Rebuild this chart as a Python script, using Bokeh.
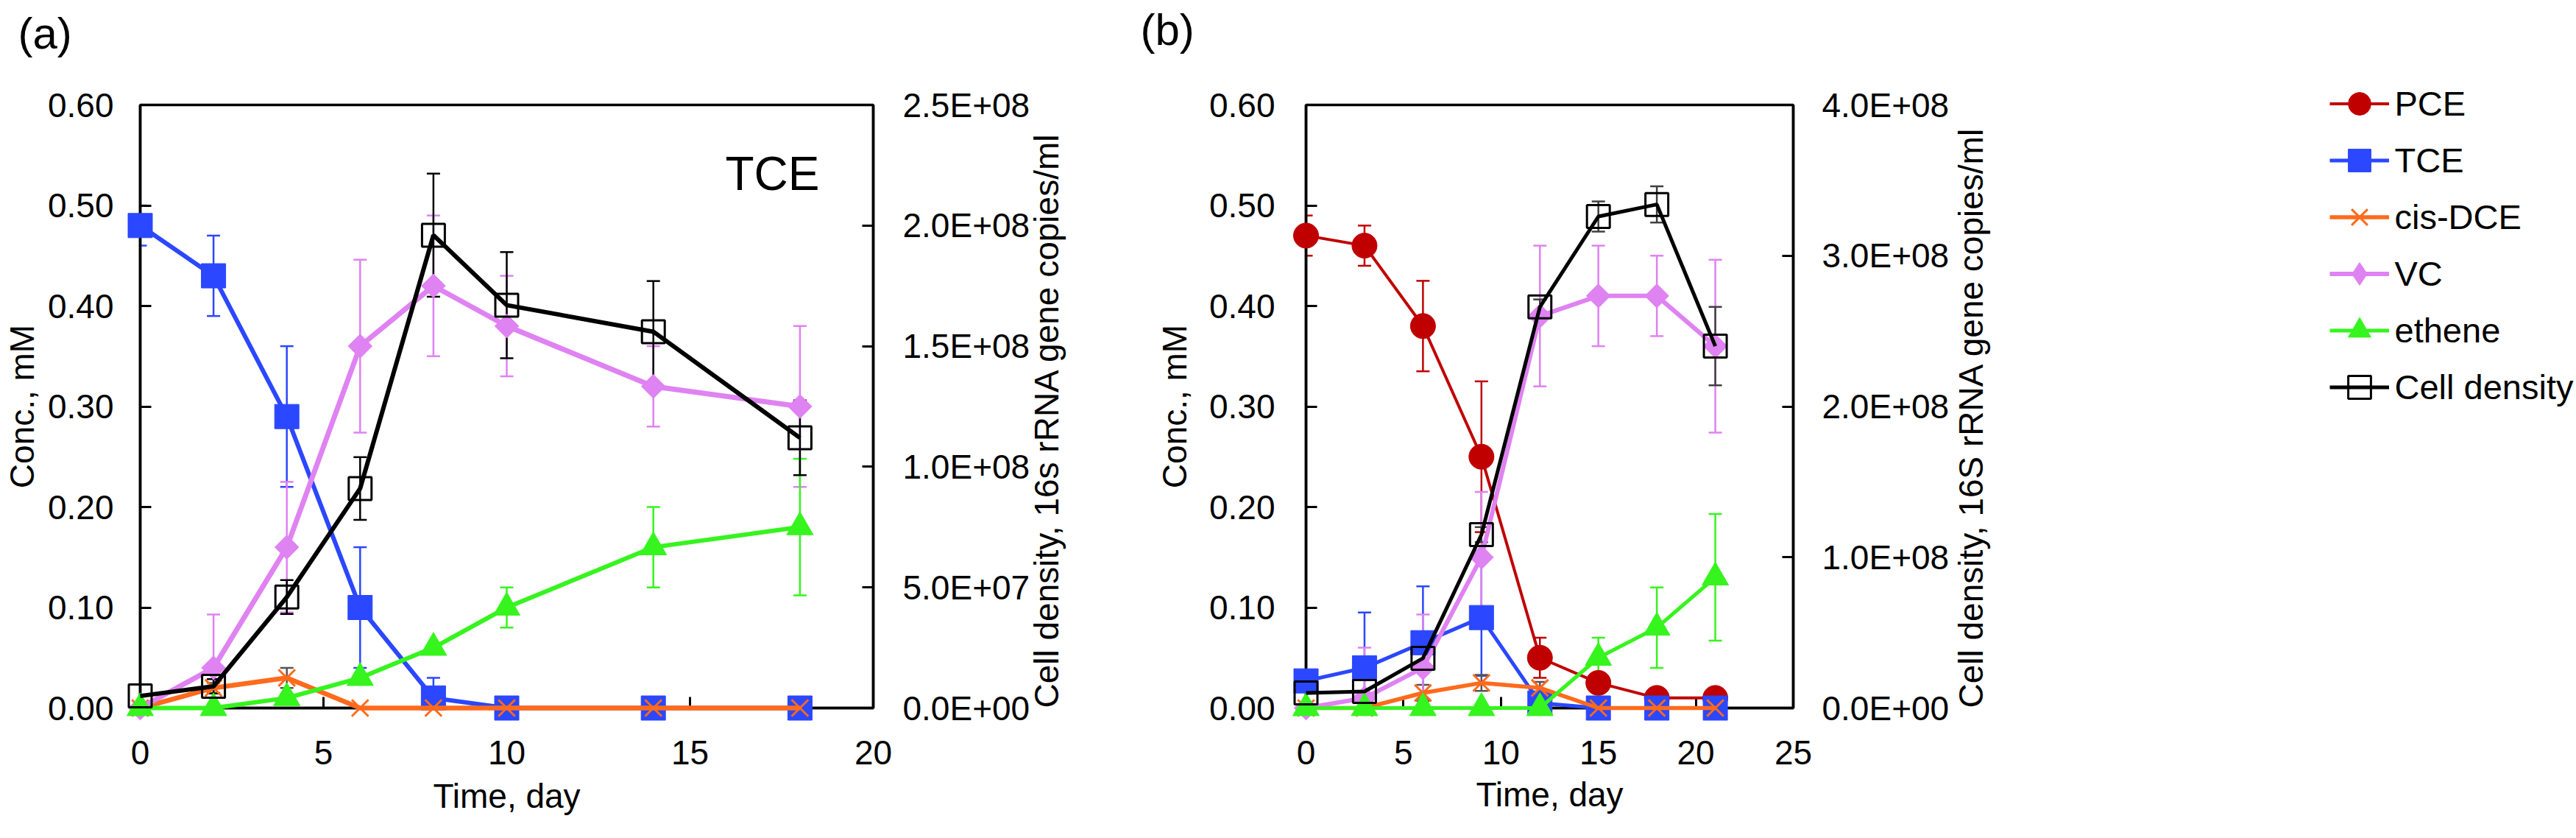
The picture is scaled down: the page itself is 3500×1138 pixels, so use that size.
import math
from bokeh.plotting import figure
from bokeh.models import (Range1d, LinearAxis, FixedTicker, NumeralTickFormatter,
                          CustomJSTickFormatter, Whisker, TeeHead, ColumnDataSource,
                          Label, Legend, LegendItem, Title)
from bokeh.layouts import row
from bokeh.embed import file_html
from bokeh.resources import INLINE

# ---------------- data ----------------
# panel (a): TCE-fed culture
days_a = [0, 2, 4, 6, 8, 10, 14, 18]
tce_a = [0.48, 0.43, 0.29, 0.10, 0.01, 0.0, 0.0, 0.0]
tce_a_err = [0.02, 0.04, 0.07, 0.06, 0.02, 0, 0, 0]
dce_a = [0.0, 0.02, 0.03, 0.0, 0.0, 0.0, 0.0, 0.0]
dce_a_err = [0, 0.005, 0.01, 0, 0, 0, 0, 0]
vc_a = [0.0, 0.04, 0.16, 0.36, 0.42, 0.38, 0.32, 0.30]
vc_a_err = [0, 0.053, 0.065, 0.086, 0.07, 0.05, 0.04, 0.08]
eth_a = [0.0, 0.0, 0.01, 0.03, 0.06, 0.10, 0.16, 0.18]
eth_a_err = [0, 0, 0.004, 0, 0, 0.02, 0.04, 0.068]
cell_a = [5.0e6, 9.0e6, 4.6e7, 9.1e7, 1.96e8, 1.67e8, 1.56e8, 1.12e8]
cell_a_err = [0, 3e6, 7e6, 1.3e7, 2.55e7, 2.2e7, 2.1e7, 1.55e7]

# panel (b): PCE-fed culture
days_b = [0, 3, 6, 9, 12, 15, 18, 21]
pce_b = [0.47, 0.46, 0.38, 0.25, 0.05, 0.025, 0.01, 0.01]
pce_b_err = [0.02, 0.02, 0.045, 0.075, 0.02, 0, 0, 0]
tce_b = [0.027, 0.04, 0.065, 0.09, 0.005, 0.0, 0.0, 0.0]
tce_b_err = [0, 0.055, 0.056, 0.058, 0, 0, 0, 0]
dce_b = [0.0, 0.0, 0.015, 0.025, 0.02, 0.0, 0.0, 0.0]
dce_b_err = [0, 0, 0.008, 0.008, 0.006, 0, 0, 0]
vc_b = [0.0, 0.01, 0.04, 0.15, 0.39, 0.41, 0.41, 0.36]
vc_b_err = [0, 0.05, 0.053, 0.065, 0.07, 0.05, 0.04, 0.086]
eth_b = [0.0, 0.0, 0.0, 0.0, 0.0, 0.05, 0.08, 0.13]
eth_b_err = [0, 0, 0, 0, 0, 0.02, 0.04, 0.063]
cell_b = [1.0e7, 1.1e7, 3.3e7, 1.15e8, 2.66e8, 3.26e8, 3.34e8, 2.40e8]
cell_b_err = [0, 0, 4e6, 5e6, 5e6, 1e7, 1.2e7, 2.6e7]

# axes / ticks
conc_ticks = [0.0, 0.1, 0.2, 0.3, 0.4, 0.5, 0.6]
x_ticks_a = [0, 5, 10, 15, 20]
x_ticks_b = [0, 5, 10, 15, 20, 25]
cell_ticks_a = [0, 5e7, 1e8, 1.5e8, 2e8, 2.5e8]
cell_ticks_b = [0, 1e8, 2e8, 3e8, 4e8]
series_labels = ["PCE", "TCE", "cis-DCE", "VC", "ethene", "Cell density"]

# ---------------- style ----------------
FONT = "Liberation Sans"
C_PCE = "#C00000"
C_TCE = "#2B47FF"
C_DCE = "#FF6A1C"
C_VC = "#DF82F2"
C_ETH = "#36F41E"
C_CELL = "#000000"
C_GRAY = "#555555"

PAGE = 8
FIG_H = 1122
CONC_MAX = 0.6
TICK_FS = "46px"
TITLE_FS = "46px"

SCI = """
const s = tick.toExponential(1).toUpperCase();
const m = s.match(/^(-?[0-9.]+)E([+-])([0-9]+)$/);
if (!m) { return s; }
return m[1] + 'E' + m[2] + (m[3].length < 2 ? '0' + m[3] : m[3]);
"""


def style_axis(ax):
    ax.axis_line_width = 3.5
    ax.axis_line_color = "black"
    ax.major_tick_in = 15
    ax.major_tick_out = 0
    ax.major_tick_line_width = 3
    ax.major_tick_line_color = "black"
    ax.minor_tick_line_color = None
    ax.major_label_text_font = FONT
    ax.major_label_text_font_size = TICK_FS
    ax.major_label_text_color = "black"
    ax.axis_label_text_font = FONT
    ax.axis_label_text_font_size = TITLE_FS
    ax.axis_label_text_font_style = "normal"
    ax.axis_label_text_color = "black"


def make_panel(page_left, fig_w, box, xmax, xticks, cmax, cticks,
               ytitle, ctitle, so):
    ax_left, ax_right, ax_top, ax_bottom = box
    p = figure(width=fig_w, height=FIG_H,
               x_range=Range1d(0, xmax), y_range=Range1d(0, CONC_MAX),
               min_border_left=ax_left - page_left,
               min_border_right=page_left + fig_w - ax_right,
               min_border_top=ax_top - PAGE,
               min_border_bottom=PAGE + FIG_H - ax_bottom,
               x_axis_location=None, y_axis_location=None,
               output_backend="svg", toolbar_location=None)
    p.extra_y_ranges = {"cells": Range1d(0, cmax)}
    p.outline_line_color = "black"
    p.outline_line_width = 3.5
    p.background_fill_color = "white"
    p.border_fill_color = "white"
    p.grid.visible = False

    yl = LinearAxis(ticker=FixedTicker(ticks=conc_ticks),
                    formatter=NumeralTickFormatter(format="0.00"),
                    major_label_standoff=so["yl"], axis_label=ytitle,
                    axis_label_standoff=so["yl_t"])
    xb = LinearAxis(ticker=FixedTicker(ticks=xticks),
                    formatter=NumeralTickFormatter(format="0"),
                    major_label_standoff=so["xb"], axis_label="Time, day",
                    axis_label_standoff=so["xb_t"])
    yr = LinearAxis(y_range_name="cells", ticker=FixedTicker(ticks=cticks),
                    formatter=CustomJSTickFormatter(code=SCI),
                    major_label_standoff=so["yr"], axis_label=ctitle,
                    axis_label_standoff=so["yr_t"])
    for ax in (yl, xb, yr):
        style_axis(ax)
    try:
        yr.axis_label_orientation = math.pi / 2
    except Exception:
        pass
    for val in ("start", "left"):
        try:
            yr.axis_label_align = val
            break
        except Exception:
            pass
    p.add_layout(yl, "left")
    p.add_layout(xb, "below")
    p.add_layout(yr, "right")
    return p


def add_err(p, x, y, e, color, lw=2.5, range_name=None):
    xs, lo, hi = [], [], []
    for xi, yi, ei in zip(x, y, e):
        if ei > 0:
            xs.append(xi)
            lo.append(yi - ei)
            hi.append(yi + ei)
    if not xs:
        return
    src = ColumnDataSource(dict(base=xs, lower=lo, upper=hi))
    kw = {}
    if range_name:
        kw["y_range_name"] = range_name
    w = Whisker(base="base", lower="lower", upper="upper", source=src, dimension="height",
                line_color=color, line_width=lw,
                upper_head=TeeHead(size=18, line_color=color, line_width=lw),
                lower_head=TeeHead(size=18, line_color=color, line_width=lw), **kw)
    p.add_layout(w)


def add_inner_text(p, fl, fb, X, Y, text, size):
    p.add_layout(Label(x=X - fl, y=fb - Y, x_units="screen", y_units="screen",
                       text=text, text_font=FONT, text_font_size=size,
                       text_align="left", text_baseline="alphabetic", text_color="black"))


def add_panel_tag(p, text, offset, standoff):
    # second (blank) line lifts the letter towards the top of the space above the frame
    p.add_layout(Title(text=text + "\n\u00a0", align="left", vertical_align="top",
                       offset=offset, standoff=standoff, text_font=FONT,
                       text_font_size="60px", text_line_height=0.9,
                       text_font_style="normal", text_color="black"), "above")


def draw_series(p, days, tce, tce_e, dce, dce_e, vc, vc_e, eth, eth_e, cell, cell_e,
                lw, cell_err_color, pce=None, pce_e=None):
    r = {}
    ov = dict(level="overlay")
    if pce is not None:
        add_err(p, days, pce, pce_e, C_PCE)
    add_err(p, days, tce, tce_e, C_TCE)
    add_err(p, days, dce, dce_e, C_GRAY)
    add_err(p, days, vc, vc_e, C_VC)
    add_err(p, days, eth, eth_e, C_ETH)
    add_err(p, days, cell, cell_e, cell_err_color, range_name="cells")
    if pce is not None:
        r["PCE"] = [p.line(days, pce, line_color=C_PCE, line_width=lw - 1, **ov),
                    p.scatter(days, pce, marker="circle", size=34, fill_color=C_PCE,
                              line_color=C_PCE, **ov)]
    r["TCE"] = [p.line(days, tce, line_color=C_TCE, line_width=lw, **ov),
                p.scatter(days, tce, marker="square", size=33, fill_color=C_TCE,
                          line_color=C_TCE, **ov)]
    r["cis-DCE"] = [p.line(days, dce, line_color=C_DCE, line_width=lw + 0.5, **ov),
                    p.scatter(days, dce, marker="x", size=32, line_color=C_DCE,
                              line_width=3, **ov)]
    vl = p.line(days, vc, line_color=C_VC, line_width=lw + 1, **ov)
    p.scatter(days, vc, marker="square", angle=math.pi / 4, size=23, fill_color=C_VC,
              line_color=C_VC, **ov)
    vleg = p.scatter(days, vc, marker="diamond", size=0, fill_color=C_VC, line_color=C_VC)
    r["VC"] = [vl, vleg]
    r["ethene"] = [p.line(days, eth, line_color=C_ETH, line_width=lw, **ov),
                   p.scatter(days, eth, marker="triangle", size=36, fill_color=C_ETH,
                             line_color=C_ETH, **ov)]
    r["Cell density"] = [p.line(days, cell, line_color=C_CELL, line_width=lw,
                                y_range_name="cells", **ov),
                         p.scatter(days, cell, marker="square", size=31, fill_color=None,
                                   line_color=C_CELL, line_width=3, y_range_name="cells", **ov)]
    return r


# ---------------- panel (a) ----------------
W1 = 1542
BOX_A = (191, 1194, 138, 969)
p1 = make_panel(PAGE, W1, BOX_A, 20, x_ticks_a, 2.5e8, cell_ticks_a,
                "Conc., mM", "Cell density, 16s rRNA gene copies/ml",
                dict(yl=36, yl_t=6, xb=44, xb_t=14, yr=40, yr_t=20))
draw_series(p1, days_a, tce_a, tce_a_err, dce_a, dce_a_err, vc_a, vc_a_err,
            eth_a, eth_a_err, cell_a, cell_a_err, lw=6, cell_err_color="#000000")
add_inner_text(p1, BOX_A[0], BOX_A[3], 986, 243, "TCE", "64px")
add_panel_tag(p1, "(a)", 30 - BOX_A[0] - 5, 4)

# ---------------- panel (b) ----------------
W2 = 1942
BOX_B = (1782, 2786, 147, 972)
p2 = make_panel(PAGE + W1, W2, BOX_B, 25, x_ticks_b, 4e8, cell_ticks_b,
                "Conc., mM", "Cell density, 16S rRNA gene copies/ml",
                dict(yl=42, yl_t=18, xb=44, xb_t=12, yr=39, yr_t=27))
rb = draw_series(p2, days_b, tce_b, tce_b_err, dce_b, dce_b_err, vc_b, vc_b_err,
                 eth_b, eth_b_err, cell_b, cell_b_err, lw=5, cell_err_color="#404040",
                 pce=pce_b, pce_e=pce_b_err)
add_inner_text(p2, BOX_B[0], BOX_B[3], 2594, 251, "PCE", "62px")
add_panel_tag(p2, "(b)", 1562 - BOX_B[0] - 5, 13)

legend = Legend(items=[LegendItem(label=lab, renderers=rb[lab]) for lab in series_labels],
                location=(222, BOX_B[3] - 561.5 - 13),
                glyph_width=81, glyph_height=77, label_standoff=8,
                spacing=0, padding=0, margin=0,
                border_line_color=None, background_fill_alpha=0,
                label_text_font=FONT, label_text_font_size="47px", label_text_color="black")
p2.add_layout(legend, "right")

layout = row(p1, p2)
open("out.html", "w").write(file_html(layout, INLINE))
